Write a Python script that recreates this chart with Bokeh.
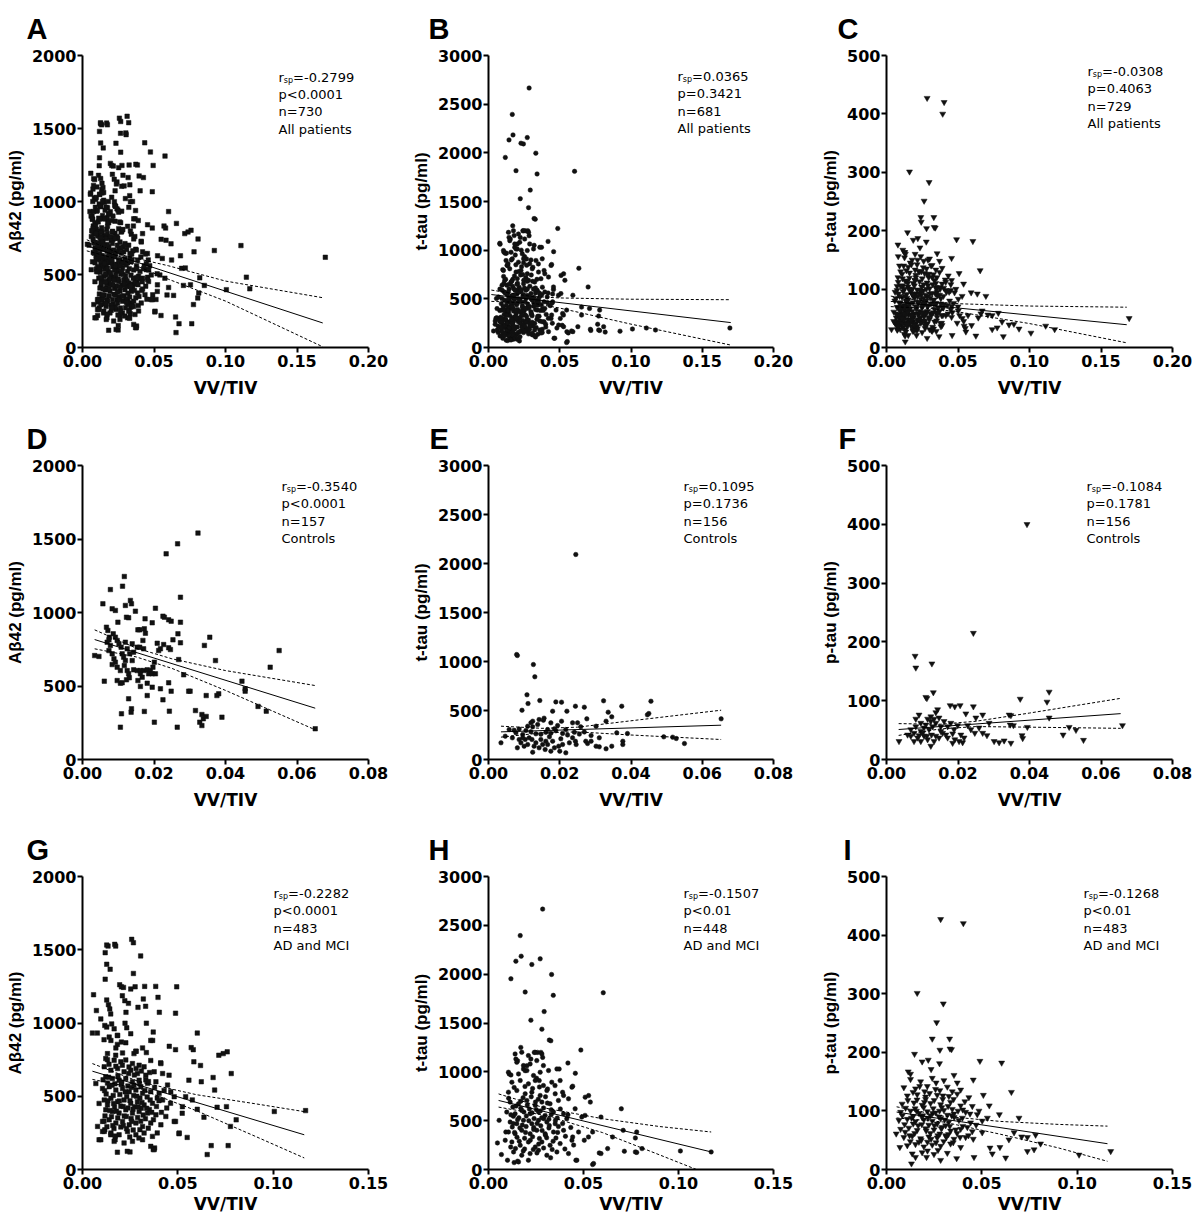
from bokeh.plotting import figure
from bokeh.models import Range1d, FixedTicker, NumeralTickFormatter, Label
from bokeh.layouts import row, column
from bokeh.embed import file_html
from bokeh.resources import INLINE

FONT_WIDE = "DejaVu Sans"        # horizontal texts (wide, like the reference)
FONT = "Liberation Sans"         # vertical axis titles and panel letters
INK = "#111111"

# ---------------- data (VV/TIV, concentration) ----------------
ab42_controls = [
    (0.0323, 1540), (0.0266, 1467), (0.0234, 1399), (0.0117, 1245), (0.0112, 1179), (0.0078, 1156), (0.0057, 1059),
    (0.0274, 1104), (0.0134, 1082), (0.0137, 1059), (0.0083, 1025), (0.0092, 1014), (0.0120, 1048), (0.0204, 1029),
    (0.0148, 1009), (0.0225, 975), (0.0229, 968), (0.0241, 950), (0.0248, 941), (0.0274, 934), (0.0099, 934),
    (0.0175, 957), (0.0195, 930), (0.0123, 968), (0.0129, 964), (0.0155, 882), (0.0160, 882), (0.0173, 889),
    (0.0176, 859), (0.0356, 832), (0.0341, 776), (0.0253, 814), (0.0267, 855), (0.0274, 794), (0.0227, 782),
    (0.0209, 791), (0.0218, 753), (0.0213, 741), (0.0241, 760), (0.0246, 748), (0.0269, 680), (0.0372, 673),
    (0.0283, 576), (0.0297, 465), (0.0241, 522), (0.0218, 481), (0.0225, 406), (0.0243, 329), (0.0248, 465),
    (0.0265, 220), (0.0201, 254), (0.0173, 327), (0.0137, 345), (0.0136, 322), (0.0129, 413), (0.0109, 311),
    (0.0106, 220), (0.0106, 519), (0.0123, 542), (0.0061, 533), (0.0034, 707), (0.0046, 701),
    (0.0067, 900), (0.0071, 878), (0.0075, 832), (0.0069, 798), (0.0078, 776), (0.0086, 855), (0.0092, 832),
    (0.0097, 810), (0.0102, 787), (0.0074, 741), (0.0083, 719), (0.0088, 685), (0.0092, 662), (0.0083, 646),
    (0.0097, 628), (0.0106, 605), (0.0111, 719), (0.0115, 696), (0.0120, 673), (0.0117, 639), (0.0125, 605),
    (0.0129, 583), (0.0108, 764), (0.0120, 798), (0.0125, 753), (0.0132, 719), (0.0139, 673), (0.0143, 610),
    (0.0153, 605), (0.0162, 605), (0.0171, 605), (0.0181, 610), (0.0190, 605), (0.0197, 628), (0.0201, 662),
    (0.0185, 583), (0.0195, 583), (0.0204, 583), (0.0162, 583), (0.0167, 560), (0.0155, 537), (0.0162, 497),
    (0.0143, 730), (0.0153, 764), (0.0139, 787), (0.0097, 537), (0.0111, 522), (0.0131, 556), (0.0181, 519),
    (0.0195, 492), (0.0181, 435), (0.0160, 764), (0.0171, 753), (0.0169, 810), (0.0074, 814),
    (0.0381, 447), (0.0376, 435), (0.0390, 288), (0.0446, 533), (0.0455, 481), (0.0455, 465), (0.0491, 361),
    (0.0514, 329), (0.0525, 628), (0.0550, 741), (0.0651, 209), (0.0346, 435), (0.0334, 306), (0.0338, 277),
    (0.0334, 231), (0.0346, 293), (0.0328, 254), (0.0316, 333), (0.0301, 465),
]

ttau_controls = [
    (0.0245, 2092), (0.0079, 1071), (0.0081, 1061), (0.0126, 969), (0.0130, 844), (0.0108, 660), (0.0111, 571),
    (0.0144, 602), (0.0094, 503), (0.0189, 588), (0.0205, 585), (0.0244, 544), (0.0269, 534), (0.0323, 599),
    (0.0374, 544), (0.0456, 595), (0.0450, 469), (0.0446, 456), (0.0653, 415), (0.0336, 483), (0.0346, 435),
    (0.0276, 415), (0.0220, 493), (0.0180, 493), (0.0156, 422), (0.0154, 401), (0.0124, 391), (0.0119, 374),
    (0.0142, 408), (0.0205, 391), (0.0194, 347), (0.0175, 374), (0.0166, 306), (0.0185, 313), (0.0236, 374),
    (0.0259, 333), (0.0330, 391), (0.0360, 272), (0.0390, 265), (0.0492, 231), (0.0517, 228), (0.0527, 214),
    (0.0550, 163), (0.0377, 187), (0.0377, 153), (0.0346, 136), (0.0330, 109), (0.0311, 129), (0.0302, 136),
    (0.0278, 163), (0.0273, 187), (0.0244, 187), (0.0246, 153), (0.0227, 170), (0.0236, 221), (0.0208, 153),
    (0.0200, 85), (0.0197, 136), (0.0185, 119), (0.0180, 187), (0.0171, 231), (0.0159, 102), (0.0161, 187),
    (0.0152, 153), (0.0124, 75), (0.0128, 136), (0.0133, 170), (0.0122, 204), (0.0142, 119), (0.0110, 153),
    (0.0100, 136), (0.0091, 170), (0.0081, 119), (0.0103, 204), (0.0114, 221), (0.0096, 255), (0.0077, 272),
    (0.0067, 221), (0.0058, 306), (0.0047, 238), (0.0035, 170), (0.0072, 298), (0.0086, 311), (0.0105, 296),
    (0.0119, 284), (0.0133, 262), (0.0147, 258), (0.0161, 277), (0.0175, 268), (0.0189, 293), (0.0208, 266),
    (0.0222, 250), (0.0241, 278), (0.0255, 259), (0.0269, 281), (0.0288, 245), (0.0311, 221), (0.0203, 211),
    (0.0124, 333), (0.0138, 357), (0.0110, 340), (0.0096, 221), (0.0086, 204), (0.0147, 204), (0.0166, 153),
    (0.0175, 85), (0.0217, 68), (0.0250, 374), (0.0217, 306), (0.0302, 340), (0.0288, 187),
]

ptau_controls = [
    (0.0393, 400), (0.0243, 215), (0.0080, 176), (0.0082, 156), (0.0127, 163), (0.0110, 106), (0.0113, 104),
    (0.0131, 114), (0.0455, 115), (0.0374, 103), (0.0449, 98), (0.0243, 90), (0.0178, 92), (0.0191, 90),
    (0.0206, 92), (0.0143, 85), (0.0138, 80), (0.0343, 76), (0.0348, 75), (0.0269, 76), (0.0250, 71),
    (0.0455, 71), (0.0222, 78), (0.0091, 76), (0.0082, 69), (0.0124, 73), (0.0115, 69), (0.0660, 58),
    (0.0355, 58), (0.0346, 59), (0.0394, 55), (0.0511, 55), (0.0530, 50), (0.0379, 41), (0.0381, 36),
    (0.0494, 42), (0.0551, 33), (0.0301, 31), (0.0315, 29), (0.0329, 32), (0.0348, 28), (0.0281, 41),
    (0.0269, 45), (0.0247, 45), (0.0236, 51), (0.0227, 58), (0.0199, 58), (0.0189, 51), (0.0185, 44),
    (0.0203, 31), (0.0213, 29), (0.0191, 34), (0.0171, 37), (0.0157, 45), (0.0147, 37), (0.0133, 31),
    (0.0124, 23), (0.0115, 34), (0.0105, 40), (0.0096, 31), (0.0087, 37), (0.0077, 31), (0.0068, 40),
    (0.0059, 42), (0.0035, 31), (0.0068, 51), (0.0082, 56), (0.0096, 48), (0.0105, 54), (0.0119, 51),
    (0.0129, 56), (0.0138, 62), (0.0152, 56), (0.0161, 65), (0.0171, 56), (0.0180, 62), (0.0096, 62),
    (0.0110, 59), (0.0124, 65), (0.0147, 71), (0.0133, 69), (0.0077, 45), (0.0091, 41), (0.0101, 45),
    (0.0113, 40), (0.0126, 42), (0.0138, 40), (0.0152, 48), (0.0166, 42), (0.0208, 42), (0.0217, 37),
    (0.0259, 54), (0.0287, 62), (0.0185, 28),
]

ab42_admci = [
    (0.0119, 1480), (0.0134, 1525), (0.0127, 1532), (0.0169, 1537), (0.0174, 1525), (0.0258, 1571), (0.0267, 1548),
    (0.0305, 1458), (0.0127, 1401), (0.0145, 1367), (0.0119, 1299), (0.0267, 1338), (0.0195, 1261), (0.0204, 1247),
    (0.0215, 1243), (0.0253, 1232), (0.0276, 1247), (0.0326, 1250), (0.0384, 1250), (0.0494, 1247), (0.0058, 1193),
    (0.0396, 1175), (0.0209, 1186), (0.0222, 1152), (0.0127, 1157), (0.0136, 1125), (0.0319, 1164), (0.0331, 1114),
    (0.0291, 1107), (0.0241, 1134), (0.0228, 1073), (0.0073, 1085), (0.0143, 1096), (0.0148, 1062), (0.0403, 1073),
    (0.0488, 1067), (0.0096, 1028), (0.0117, 983), (0.0153, 994), (0.0166, 960), (0.0127, 972), (0.0223, 999),
    (0.0232, 967), (0.0335, 999), (0.0052, 931), (0.0078, 931), (0.0113, 886), (0.0140, 904), (0.0183, 915),
    (0.0183, 854), (0.0204, 870), (0.0371, 938), (0.0368, 881), (0.0602, 931), (0.0455, 841), (0.0488, 818),
    (0.0570, 832), (0.0581, 818), (0.0270, 791), (0.0281, 807), (0.0335, 798), (0.0759, 803), (0.0738, 791),
    (0.0715, 780), (0.0131, 791), (0.0122, 757), (0.0174, 780), (0.0410, 728), (0.0584, 735), (0.0619, 710),
    (0.0780, 655), (0.0685, 628), (0.0558, 610), (0.0623, 599), (0.0693, 542), (0.0755, 429), (0.0806, 339),
    (0.0776, 294), (0.0675, 163), (0.0654, 102), (0.0764, 163), (0.1006, 396), (0.1170, 402), (0.0549, 219),
    (0.0506, 244), (0.0523, 384), (0.0637, 357), (0.0706, 425), (0.0488, 328), (0.0541, 497), (0.0576, 475),
    (0.0602, 411), (0.0462, 452), (0.0087, 203), (0.0183, 118), (0.0235, 124), (0.0249, 120), (0.0378, 147),
    (0.0371, 136), (0.0171, 203), (0.0105, 260), (0.0117, 271), (0.0148, 237),
    (0.0175, 830), (0.0227, 865), (0.0280, 808), (0.0210, 796), (0.0149, 881), (0.0315, 830), (0.0358, 881),
    (0.0253, 927), (0.0184, 915),
    (0.0131, 750), (0.0166, 746), (0.0201, 735), (0.0227, 748), (0.0262, 723), (0.0297, 712), (0.0323, 701),
    (0.0358, 744), (0.0411, 723), (0.0454, 644), (0.0114, 701), (0.0149, 678), (0.0184, 689), (0.0218, 667),
    (0.0253, 678), (0.0288, 655), (0.0332, 644), (0.0376, 667), (0.0420, 655), (0.0122, 633), (0.0157, 621),
    (0.0192, 610), (0.0227, 621), (0.0262, 599), (0.0297, 610), (0.0341, 588), (0.0385, 599), (0.0446, 576),
    (0.0105, 553), (0.0140, 565), (0.0175, 542), (0.0210, 553), (0.0245, 531), (0.0280, 542), (0.0315, 520),
    (0.0358, 531), (0.0402, 520), (0.0463, 531), (0.0114, 475), (0.0149, 486), (0.0184, 463), (0.0218, 475),
    (0.0253, 452), (0.0288, 463), (0.0323, 441), (0.0367, 452), (0.0420, 475), (0.0481, 497), (0.0122, 407),
    (0.0157, 396), (0.0192, 385), (0.0227, 407), (0.0262, 385), (0.0297, 396), (0.0341, 385), (0.0385, 373),
    (0.0437, 362), (0.0524, 429), (0.0105, 328), (0.0140, 339), (0.0175, 317), (0.0210, 328), (0.0245, 305),
    (0.0280, 317), (0.0315, 294), (0.0358, 317), (0.0411, 305), (0.0481, 328), (0.0114, 260), (0.0149, 249),
    (0.0192, 237), (0.0236, 260), (0.0280, 237), (0.0323, 249), (0.0367, 226), (0.0507, 249), (0.0166, 192),
    (0.0218, 181), (0.0262, 192), (0.0315, 203), (0.0358, 158), (0.0376, 136), (0.0070, 587), (0.0087, 451),
    (0.0079, 294), (0.0096, 203),
    (0.0139, 718), (0.0175, 705), (0.0209, 712), (0.0244, 700), (0.0281, 690), (0.0309, 672), (0.0352, 662),
    (0.0131, 590), (0.0170, 585), (0.0203, 580), (0.0238, 570), (0.0270, 575), (0.0306, 565), (0.0332, 612),
    (0.0124, 515), (0.0161, 505), (0.0196, 512), (0.0232, 498), (0.0268, 505), (0.0301, 488), (0.0339, 495),
    (0.0392, 488), (0.0131, 440), (0.0168, 428), (0.0201, 432), (0.0238, 420), (0.0273, 428), (0.0308, 418),
    (0.0351, 410), (0.0118, 366), (0.0152, 360), (0.0185, 352), (0.0219, 365), (0.0255, 348), (0.0289, 355),
    (0.0330, 346), (0.0372, 340), (0.0128, 292), (0.0165, 280), (0.0201, 290), (0.0231, 278), (0.0266, 270),
    (0.0301, 272), (0.0345, 282), (0.0172, 228), (0.0248, 222), (0.0296, 215), (0.0392, 250),
    (0.0108, 612), (0.0116, 538), (0.0133, 470), (0.0144, 402), (0.0137, 630), (0.0155, 575), (0.0163, 450),
    (0.0178, 398), (0.0186, 640), (0.0193, 468), (0.0206, 595), (0.0213, 430), (0.0224, 530), (0.0230, 362),
    (0.0242, 655), (0.0249, 470), (0.0257, 560), (0.0265, 412), (0.0272, 645), (0.0284, 500), (0.0292, 428),
    (0.0299, 585), (0.0312, 458), (0.0318, 372), (0.0327, 540), (0.0336, 418), (0.0346, 600), (0.0355, 475),
    (0.0363, 390), (0.0378, 560), (0.0388, 430), (0.0401, 470), (0.0414, 390), (0.0428, 540), (0.0442, 420),
    (0.0113, 330), (0.0159, 300), (0.0214, 300), (0.0258, 328), (0.0305, 330),
]

ttau_admci = [
    (0.0285, 2666), (0.0167, 2395), (0.0172, 2184), (0.0144, 2133), (0.0228, 2099), (0.0272, 2157), (0.0118, 1953),
    (0.0332, 1997), (0.0193, 1817), (0.0341, 1783), (0.0604, 1810), (0.0223, 1529), (0.0293, 1617), (0.0281, 1437),
    (0.0320, 1325), (0.0328, 1318), (0.0486, 1223), (0.0170, 1250), (0.0144, 1131), (0.0153, 1114), (0.0241, 1199),
    (0.0258, 1199), (0.0276, 1199), (0.0223, 1131), (0.0285, 1148), (0.0202, 1063), (0.0184, 1029), (0.0193, 1012),
    (0.0118, 968), (0.0109, 978), (0.0418, 1090), (0.0372, 1029), (0.0457, 985), (0.0253, 934), (0.0267, 910),
    (0.0311, 825), (0.0350, 859), (0.0443, 853), (0.0390, 791), (0.0527, 757), (0.0536, 690), (0.0699, 622),
    (0.0592, 537), (0.0508, 554), (0.0056, 503), (0.0709, 401), (0.0780, 384), (0.0653, 333), (0.0773, 323),
    (0.0808, 214), (0.1010, 190), (0.1172, 180), (0.0773, 180), (0.0780, 175), (0.0715, 187), (0.0548, 51),
    (0.0460, 95), (0.0583, 170), (0.0592, 163), (0.0627, 214), (0.0548, 384), (0.0504, 299), (0.0443, 333),
    (0.0047, 272), (0.0068, 153), (0.0100, 95), (0.0135, 71), (0.0153, 85), (0.0091, 384), (0.0088, 299),
    (0.0140, 1183), (0.0175, 1200), (0.0210, 1166), (0.0246, 1200), (0.0281, 1183), (0.0149, 1098), (0.0184, 1064),
    (0.0219, 1081), (0.0254, 1115), (0.0289, 1064), (0.0105, 996), (0.0158, 979), (0.0202, 1013), (0.0237, 962),
    (0.0272, 996), (0.0316, 1013), (0.0360, 1030), (0.0123, 894), (0.0167, 911), (0.0210, 877), (0.0246, 911),
    (0.0289, 860), (0.0333, 894), (0.0377, 911), (0.0105, 792), (0.0149, 809), (0.0193, 775), (0.0228, 792),
    (0.0272, 758), (0.0307, 809), (0.0351, 775), (0.0395, 758), (0.0439, 843), (0.0114, 690), (0.0158, 673),
    (0.0202, 707), (0.0246, 656), (0.0281, 690), (0.0324, 673), (0.0368, 707), (0.0421, 724), (0.0509, 741),
    (0.0096, 588), (0.0140, 571), (0.0175, 605), (0.0219, 571), (0.0263, 588), (0.0298, 554), (0.0342, 588),
    (0.0395, 571), (0.0456, 622), (0.0114, 486), (0.0149, 469), (0.0184, 503), (0.0228, 469), (0.0263, 503),
    (0.0307, 486), (0.0351, 469), (0.0412, 520), (0.0491, 537), (0.0105, 384), (0.0140, 367), (0.0175, 401),
    (0.0219, 367), (0.0254, 401), (0.0298, 367), (0.0342, 384), (0.0395, 401), (0.0474, 384), (0.0123, 282),
    (0.0167, 248), (0.0210, 282), (0.0246, 231), (0.0281, 282), (0.0324, 248), (0.0377, 265), (0.0439, 299),
    (0.0526, 333), (0.0132, 180), (0.0175, 146), (0.0219, 163), (0.0263, 197), (0.0307, 146), (0.0360, 180),
    (0.0421, 163), (0.0158, 78), (0.0210, 95), (0.0465, 95), (0.0553, 61),
    (0.0128, 640), (0.0170, 628), (0.0215, 620), (0.0252, 612), (0.0290, 630), (0.0330, 612), (0.0131, 545),
    (0.0160, 530), (0.0199, 548), (0.0240, 522), (0.0280, 530), (0.0318, 515), (0.0362, 528), (0.0125, 435),
    (0.0165, 425), (0.0198, 440), (0.0238, 430), (0.0275, 448), (0.0318, 425), (0.0368, 440), (0.0150, 330),
    (0.0190, 320), (0.0232, 335), (0.0268, 318), (0.0306, 325), (0.0355, 322), (0.0142, 215), (0.0190, 210),
    (0.0236, 205), (0.0290, 220), (0.0335, 205), (0.0182, 735), (0.0225, 745), (0.0262, 720), (0.0300, 745),
    (0.0135, 840), (0.0192, 850), (0.0232, 830), (0.0268, 845),
    (0.0106, 730), (0.0118, 560), (0.0130, 470), (0.0137, 380), (0.0145, 650), (0.0153, 510), (0.0162, 290),
    (0.0170, 700), (0.0178, 455), (0.0186, 590), (0.0195, 380), (0.0204, 660), (0.0212, 500), (0.0220, 300),
    (0.0229, 580), (0.0238, 410), (0.0247, 690), (0.0256, 470), (0.0264, 260), (0.0273, 600), (0.0282, 400),
    (0.0291, 520), (0.0300, 350), (0.0310, 680), (0.0320, 450), (0.0330, 560), (0.0340, 290), (0.0352, 500),
    (0.0364, 380), (0.0378, 620), (0.0390, 470), (0.0405, 340), (0.0418, 560), (0.0433, 430), (0.0448, 250),
    (0.0117, 230), (0.0183, 190), (0.0255, 170), (0.0327, 120), (0.0402, 210),
]

ptau_admci = [
    (0.0284, 427), (0.0403, 420), (0.0161, 301), (0.0298, 283), (0.0263, 251), (0.0240, 223), (0.0331, 223),
    (0.0280, 204), (0.0333, 206), (0.0341, 205), (0.0147, 197), (0.0490, 185), (0.0604, 182), (0.0187, 184),
    (0.0219, 187), (0.0234, 171), (0.0278, 181), (0.0354, 161), (0.0455, 153), (0.0655, 132), (0.0508, 127),
    (0.0114, 167), (0.0126, 163), (0.0592, 94), (0.0695, 88), (0.0539, 109), (0.0529, 88), (0.0782, 59),
    (0.0739, 55), (0.1010, 25), (0.1176, 31), (0.0739, 31), (0.0774, 34), (0.0595, 38), (0.0625, 20),
    (0.0543, 37), (0.0555, 27), (0.0459, 21), (0.0368, 19), (0.0284, 16), (0.0131, 10), (0.0051, 61),
    (0.0070, 38), (0.0152, 21), (0.0210, 21), (0.0669, 63), (0.0709, 56), (0.0808, 44), (0.0642, 51),
    (0.0502, 63),
    (0.0126, 154), (0.0179, 150), (0.0240, 156), (0.0301, 152), (0.0371, 148), (0.0091, 140), (0.0152, 138),
    (0.0214, 142), (0.0257, 137), (0.0319, 141), (0.0389, 136), (0.0109, 126), (0.0161, 128), (0.0205, 124),
    (0.0266, 127), (0.0327, 125), (0.0371, 129), (0.0432, 123), (0.0082, 112), (0.0144, 114), (0.0187, 110),
    (0.0231, 113), (0.0284, 111), (0.0336, 115), (0.0389, 109), (0.0450, 108), (0.0074, 98), (0.0126, 100),
    (0.0170, 96), (0.0214, 99), (0.0257, 97), (0.0301, 101), (0.0354, 95), (0.0415, 98), (0.0476, 94),
    (0.0065, 84), (0.0109, 86), (0.0152, 82), (0.0196, 85), (0.0240, 83), (0.0284, 87), (0.0327, 81),
    (0.0380, 84), (0.0441, 80), (0.0502, 83), (0.0074, 69), (0.0117, 71), (0.0161, 67), (0.0205, 70),
    (0.0249, 68), (0.0292, 72), (0.0336, 66), (0.0389, 69), (0.0450, 65), (0.0091, 55), (0.0135, 57),
    (0.0179, 53), (0.0222, 56), (0.0266, 54), (0.0310, 58), (0.0354, 52), (0.0415, 55), (0.0109, 41),
    (0.0152, 43), (0.0196, 39), (0.0240, 42), (0.0284, 40), (0.0336, 44), (0.0389, 38), (0.0135, 27),
    (0.0187, 29), (0.0249, 26), (0.0319, 28), (0.0231, 92), (0.0275, 90), (0.0319, 93), (0.0222, 76),
    (0.0266, 78), (0.0310, 75),
    (0.0100, 105), (0.0150, 104), (0.0195, 106), (0.0245, 104), (0.0290, 106), (0.0345, 103), (0.0400, 102),
    (0.0095, 77), (0.0140, 78), (0.0185, 77), (0.0230, 62), (0.0280, 61), (0.0325, 60), (0.0370, 62),
    (0.0125, 48), (0.0170, 47), (0.0215, 47), (0.0260, 46), (0.0300, 48), (0.0350, 46), (0.0160, 119),
    (0.0205, 120), (0.0250, 118), (0.0295, 120), (0.0200, 133), (0.0280, 135), (0.0345, 133), (0.0140, 91),
    (0.0185, 90), (0.0355, 89), (0.0400, 74), (0.0430, 58), (0.0270, 33), (0.0215, 32),
    (0.0083, 92), (0.0098, 64), (0.0112, 118), (0.0121, 58), (0.0131, 88), (0.0139, 132), (0.0148, 62),
    (0.0157, 100), (0.0166, 75), (0.0174, 142), (0.0182, 50), (0.0190, 92), (0.0199, 115), (0.0208, 66),
    (0.0217, 88), (0.0226, 130), (0.0234, 52), (0.0242, 96), (0.0251, 75), (0.0260, 148), (0.0269, 58),
    (0.0278, 100), (0.0287, 70), (0.0296, 126), (0.0305, 85), (0.0314, 55), (0.0323, 108), (0.0332, 74),
    (0.0342, 92), (0.0352, 120), (0.0363, 68), (0.0375, 100), (0.0386, 55), (0.0398, 88), (0.0411, 116),
    (0.0424, 72), (0.0438, 95), (0.0455, 52), (0.0470, 76), (0.0485, 100),
]

# patients in "All patients" that belong to neither group above
ab42_other = [
    (0.1698, 618), (0.1108, 698), (0.0922, 664), (0.1146, 482), (0.0820, 477), (0.0852, 425), (0.0813, 373),
    (0.0577, 1311), (0.0657, 850), (0.0808, 743), (0.0719, 545), (0.0591, 360), (0.0522, 505), (0.0435, 1402),
    (0.0475, 1339), (0.0426, 1164), (0.0373, 1255), (0.0312, 1584), (0.0126, 1539), (0.0303, 1470),
    (0.0060, 900), (0.0072, 1000), (0.0090, 960), (0.0065, 800), (0.0080, 720), (0.0100, 1100), (0.0110, 860),
    (0.0075, 650), (0.0095, 610), (0.0105, 700), (0.0085, 1150), (0.0120, 1050), (0.0140, 1000), (0.0300, 1020),
    (0.0330, 1040), (0.0350, 1000), (0.0390, 870), (0.0420, 780), (0.0440, 640), (0.0460, 600), (0.0280, 350),
    (0.0330, 200), (0.0250, 150), (0.0200, 290), (0.0420, 400), (0.0450, 330), (0.0470, 560), (0.0380, 480),
    (0.0160, 450), (0.0230, 560),
    (0.0055, 1050), (0.0062, 760), (0.0068, 880), (0.0077, 1110), (0.0088, 580), (0.0093, 780), (0.0098, 520),
    (0.0104, 940), (0.0113, 640), (0.0121, 880), (0.0127, 480), (0.0134, 820), (0.0142, 360), (0.0151, 700),
    (0.0158, 940), (0.0164, 300), (0.0172, 660), (0.0181, 1000), (0.0187, 400), (0.0194, 760), (0.0206, 270),
    (0.0213, 900), (0.0221, 460), (0.0229, 640), (0.0237, 1120), (0.0244, 380), (0.0252, 600), (0.0259, 860),
    (0.0266, 250), (0.0274, 520), (0.0283, 1180), (0.0291, 440), (0.0298, 700), (0.0307, 310), (0.0316, 580),
    (0.0324, 960), (0.0336, 420), (0.0344, 640), (0.0357, 280), (0.0366, 760), (0.0379, 540), (0.0395, 350),
    (0.0408, 620), (0.0418, 450), (0.0432, 560),
]
ttau_other = [
    (0.1694, 200), (0.1108, 200), (0.0923, 168), (0.0819, 158), (0.0634, 814), (0.0766, 239), (0.0718, 175),
    (0.0060, 400), (0.0080, 600), (0.0100, 800), (0.0120, 700), (0.0140, 500), (0.0160, 900), (0.0200, 650),
    (0.0240, 750), (0.0300, 500), (0.0340, 700), (0.0380, 400), (0.0420, 300), (0.0450, 550), (0.0480, 200),
    (0.0520, 350), (0.0560, 150), (0.0090, 450), (0.0130, 250), (0.0260, 400), (0.0320, 1050), (0.0230, 1000),
    (0.0180, 1150),
    (0.0052, 300), (0.0061, 180), (0.0070, 520), (0.0079, 380), (0.0087, 260), (0.0095, 640), (0.0103, 420),
    (0.0112, 120), (0.0121, 560), (0.0129, 330), (0.0137, 860), (0.0146, 200), (0.0155, 460), (0.0163, 680),
    (0.0171, 130), (0.0179, 540), (0.0188, 950), (0.0196, 300), (0.0204, 460), (0.0213, 780), (0.0221, 110),
    (0.0229, 590), (0.0238, 330), (0.0246, 870), (0.0255, 220), (0.0263, 520), (0.0272, 680), (0.0281, 140),
    (0.0289, 420), (0.0298, 900), (0.0306, 260), (0.0315, 600), (0.0324, 180), (0.0333, 450), (0.0345, 320),
    (0.0357, 560), (0.0368, 150), (0.0384, 380), (0.0401, 240), (0.0415, 460),
]
ptau_other = [
    (0.1697, 50), (0.1113, 37), (0.0927, 32), (0.0817, 19), (0.0891, 40), (0.0857, 39), (0.0635, 92),
    (0.0060, 95), (0.0080, 120), (0.0100, 70), (0.0120, 140), (0.0150, 60), (0.0180, 100), (0.0200, 160),
    (0.0230, 130), (0.0260, 85), (0.0290, 150), (0.0320, 120), (0.0350, 100), (0.0380, 75), (0.0420, 95),
    (0.0460, 60), (0.0500, 70), (0.0540, 45), (0.0570, 55), (0.0075, 30), (0.0130, 20),
    (0.0050, 45), (0.0058, 80), (0.0066, 58), (0.0074, 105), (0.0083, 36), (0.0091, 88), (0.0099, 130),
    (0.0107, 50), (0.0116, 96), (0.0124, 68), (0.0132, 160), (0.0141, 40), (0.0149, 110), (0.0158, 75),
    (0.0166, 145), (0.0175, 55), (0.0183, 90), (0.0192, 30), (0.0200, 115), (0.0209, 70), (0.0217, 150),
    (0.0226, 48), (0.0234, 98), (0.0243, 130), (0.0251, 60), (0.0260, 108), (0.0268, 38), (0.0277, 80),
    (0.0286, 125), (0.0294, 52), (0.0303, 92), (0.0312, 140), (0.0322, 35), (0.0333, 82), (0.0345, 110),
    (0.0358, 60), (0.0371, 90), (0.0385, 42), (0.0398, 68), (0.0414, 112),
]

# regression fits (solid) and 95% confidence bands (dashed): (x, lower, upper)
fit_A = ([0.003, 0.168], [697, 168]);   band_A = ([0.003, 0.03, 0.06, 0.10, 0.168], [662, 590, 468, 318, 5], [738, 628, 560, 455, 341])
fit_B = ([0.002, 0.170], [544, 256]);   band_B = ([0.002, 0.03, 0.05, 0.10, 0.170], [474, 458, 405, 240, 25], [590, 525, 509, 496, 491])
fit_C = ([0.003, 0.168], [79, 39]);     band_C = ([0.003, 0.03, 0.05, 0.10, 0.168], [70, 67, 61, 41, 8], [88, 78, 75, 71, 69])
fit_D = ([0.0034, 0.0651], [816, 349]); band_D = ([0.0034, 0.015, 0.025, 0.04, 0.0651], [753, 698, 620, 470, 202], [882, 758, 685, 605, 503])
fit_E = ([0.0035, 0.0653], [282, 350]); band_E = ([0.0035, 0.015, 0.025, 0.04, 0.0653], [228, 272, 282, 250, 204], [340, 318, 330, 395, 503])
fit_F = ([0.0034, 0.0655], [51, 78]);   band_F = ([0.0034, 0.015, 0.025, 0.04, 0.0655], [41, 52, 56, 55, 53], [61, 60, 65, 79, 104])
fit_G = ([0.0052, 0.1163], [671, 237]); band_G = ([0.0052, 0.03, 0.06, 0.09, 0.1163], [615, 550, 400, 230, 79], [723, 598, 510, 450, 395])
fit_H = ([0.0053, 0.1172], [707, 180]); band_H = ([0.0053, 0.03, 0.06, 0.09, 0.1172], [639, 553, 378, 150, -60], [774, 628, 520, 440, 384])
fit_I = ([0.0053, 0.1159], [98, 44]);   band_I = ([0.0053, 0.03, 0.06, 0.09, 0.1159], [88, 81, 60, 37, 14], [107, 91, 82, 77, 74])

stats_A = ("=-0.2799", "p<0.0001", "n=730", "All patients")
stats_B = ("=0.0365", "p=0.3421", "n=681", "All patients")
stats_C = ("=-0.0308", "p=0.4063", "n=729", "All patients")
stats_D = ("=-0.3540", "p<0.0001", "n=157", "Controls")
stats_E = ("=0.1095", "p=0.1736", "n=156", "Controls")
stats_F = ("=-0.1084", "p=0.1781", "n=156", "Controls")
stats_G = ("=-0.2282", "p<0.0001", "n=483", "AD and MCI")
stats_H = ("=-0.1507", "p<0.01", "n=448", "AD and MCI")
stats_I = ("=-0.1268", "p<0.01", "n=483", "AD and MCI")

x_ticks_020 = [0, 0.05, 0.10, 0.15, 0.20]
x_ticks_008 = [0, 0.02, 0.04, 0.06, 0.08]
x_ticks_015 = [0, 0.05, 0.10, 0.15]
y_ticks_ab42 = [0, 500, 1000, 1500, 2000]
y_ticks_ttau = [0, 500, 1000, 1500, 2000, 2500, 3000]
y_ticks_ptau = [0, 100, 200, 300, 400, 500]

ab42_all = ab42_controls + ab42_admci + ab42_other
ttau_all = ttau_controls + ttau_admci + ttau_other
ptau_all = ptau_controls + ptau_admci + ptau_other

LAB_AB = "Aβ42 (pg/ml)"
LAB_TT = "t-tau (pg/ml)"
LAB_PT = "p-tau (pg/ml)"

# page geometry (px).  column: (fig_left, fig_width, frame_left, frame_width)
COLS = [(0, 405, 82, 286), (405, 400, 488, 285), (805, 394, 886, 286)]
#   row: (fig_top, fig_height, frame_top, frame_height, x-axis title standoff)
ROWS = [(0, 411, 55, 292, 8), (411, 412, 465, 294, 8), (823, 396, 876, 293, 2)]

panels = [
    dict(letter="A", pts=ab42_all, marker="square", size=4.5, ylab=LAB_AB, xt=x_ticks_020, yt=y_ticks_ab42,
         fit=fit_A, band=band_A, stats=stats_A, c=0, r=0, lx=26, tp=(278, 76.5)),
    dict(letter="B", pts=ttau_all, marker="circle", size=4.5, ylab=LAB_TT, xt=x_ticks_020, yt=y_ticks_ttau,
         fit=fit_B, band=band_B, stats=stats_B, c=1, r=0, lx=428, tp=(677, 76)),
    dict(letter="C", pts=ptau_all, marker="inverted_triangle", size=6, ylab=LAB_PT, xt=x_ticks_020, yt=y_ticks_ptau,
         fit=fit_C, band=band_C, stats=stats_C, c=2, r=0, lx=837, tp=(1087, 71)),
    dict(letter="D", pts=ab42_controls, marker="square", size=4.5, ylab=LAB_AB, xt=x_ticks_008, yt=y_ticks_ab42,
         fit=fit_D, band=band_D, stats=stats_D, c=0, r=1, lx=26, tp=(281, 486)),
    dict(letter="E", pts=ttau_controls, marker="circle", size=4.5, ylab=LAB_TT, xt=x_ticks_008, yt=y_ticks_ttau,
         fit=fit_E, band=band_E, stats=stats_E, c=1, r=1, lx=429, tp=(683, 486)),
    dict(letter="F", pts=ptau_controls, marker="inverted_triangle", size=6, ylab=LAB_PT, xt=x_ticks_008, yt=y_ticks_ptau,
         fit=fit_F, band=band_F, stats=stats_F, c=2, r=1, lx=838, tp=(1086, 486)),
    dict(letter="G", pts=ab42_admci, marker="square", size=4.5, ylab=LAB_AB, xt=x_ticks_015, yt=y_ticks_ab42,
         fit=fit_G, band=band_G, stats=stats_G, c=0, r=2, lx=26, tp=(273, 893)),
    dict(letter="H", pts=ttau_admci, marker="circle", size=4.5, ylab=LAB_TT, xt=x_ticks_015, yt=y_ticks_ttau,
         fit=fit_H, band=band_H, stats=stats_H, c=1, r=2, lx=428, tp=(683, 893)),
    dict(letter="I", pts=ptau_admci, marker="inverted_triangle", size=6, ylab=LAB_PT, xt=x_ticks_015, yt=y_ticks_ptau,
         fit=fit_I, band=band_I, stats=stats_I, c=2, r=2, lx=843, tp=(1083, 893)),
]


def make_panel(s):
    fx, fw, L, W = COLS[s["c"]]
    fy, fh, T, H, xstand = ROWS[s["r"]]
    xmax, ymax = s["xt"][-1], s["yt"][-1]
    p = figure(width=fw, height=fh, x_range=Range1d(0, xmax), y_range=Range1d(0, ymax),
               output_backend="svg", toolbar_location=None, title=s["letter"],
               min_border_left=L - fx, min_border_top=T - fy,
               min_border_right=fx + fw - (L + W), min_border_bottom=fy + fh - (T + H))
    # panel letter as the plot title, pulled left of the frame
    p.title.align = "left"
    p.title.offset = s["lx"] - L
    p.title.vertical_align = "top"
    p.title.standoff = 18
    p.title.text_font = FONT
    p.title.text_font_size = "29px"
    p.title.text_font_style = "bold"
    p.title.text_color = "black"

    p.outline_line_color = None
    p.background_fill_color = "white"
    p.border_fill_color = "white"
    p.xgrid.visible = False
    p.ygrid.visible = False

    p.xaxis.ticker = FixedTicker(ticks=s["xt"])
    p.yaxis.ticker = FixedTicker(ticks=s["yt"])
    p.xaxis.formatter = NumeralTickFormatter(format="0.00")
    p.yaxis.formatter = NumeralTickFormatter(format="0")
    for ax in (p.xaxis[0], p.yaxis[0]):
        ax.axis_line_width = 2
        ax.axis_line_color = "black"
        ax.major_tick_line_width = 2
        ax.major_tick_line_color = "black"
        ax.major_tick_out = 5
        ax.major_tick_in = 0
        ax.minor_tick_out = 0
        ax.minor_tick_in = 0
        ax.major_label_text_font = FONT_WIDE
        ax.major_label_text_font_size = "16px"
        ax.major_label_text_font_style = "bold"
        ax.major_label_text_color = "black"
        ax.axis_label_text_font_style = "bold"
        ax.axis_label_text_color = "black"
    p.xaxis.major_label_standoff = 2
    p.yaxis.major_label_standoff = 1
    p.xaxis.axis_label = "VV/TIV"
    p.xaxis.axis_label_text_font = FONT_WIDE
    p.xaxis.axis_label_text_font_size = "17px"
    p.xaxis.axis_label_standoff = xstand
    p.yaxis.axis_label = s["ylab"]
    p.yaxis.axis_label_text_font = FONT
    p.yaxis.axis_label_text_font_size = "17px"
    p.yaxis.axis_label_standoff = 4

    xs = [pt[0] for pt in s["pts"]]
    ys = [pt[1] for pt in s["pts"]]
    p.scatter(xs, ys, marker=s["marker"], size=s["size"], fill_color=INK, line_color=INK, line_width=0.5)

    fxs, fys = s["fit"]
    p.line(fxs, fys, line_color="black", line_width=1)
    bx, blo, bhi = s["band"]
    p.line(bx, blo, line_color="black", line_width=1, line_dash="3 2")
    p.line(bx, bhi, line_color="black", line_width=1, line_dash="3 2")

    def dx(px):
        return (px - L) / W * xmax

    def dy(py):
        return (T + H - py) / H * ymax

    # statistics block
    tx, ty = s["tp"]
    st = s["stats"]
    common = dict(text_font=FONT_WIDE, text_color="black", text_baseline="alphabetic", text_align="left")
    p.add_layout(Label(x=dx(tx), y=dy(ty), text="r", text_font_size="13px", **common))
    p.add_layout(Label(x=dx(tx + 5.3), y=dy(ty + 3), text="sp", text_font_size="8px", **common))
    p.add_layout(Label(x=dx(tx + 14.6), y=dy(ty), text=st[0], text_font_size="13px", **common))
    for k, line in enumerate(st[1:]):
        p.add_layout(Label(x=dx(tx), y=dy(ty + 17.4 * (k + 1)), text=line, text_font_size="13px", **common))
    return p


figs = [make_panel(s) for s in panels]
layout = column(row(*figs[0:3]), row(*figs[3:6]), row(*figs[6:9]))

open("out.html", "w").write(file_html(layout, INLINE, "VV/TIV vs CSF biomarkers"))
